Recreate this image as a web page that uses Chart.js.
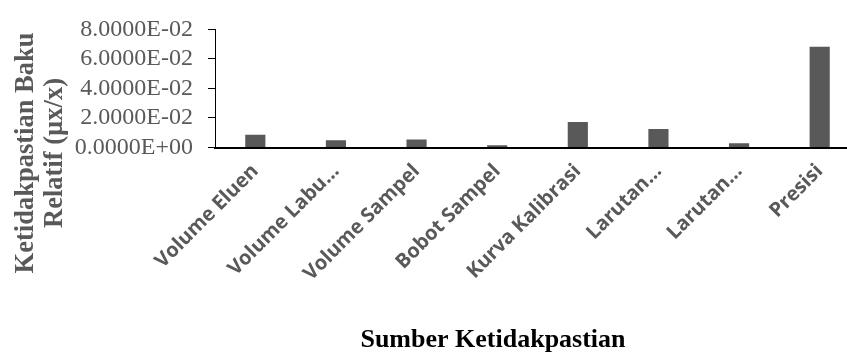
<!DOCTYPE html>
<html>
<head>
<meta charset="utf-8">
<script src="https://cdn.jsdelivr.net/npm/chart.js@4/dist/chart.umd.min.js"></script>
<style>
  html, body { margin: 0; padding: 0; background: #fff; }
  #wrap { width: 847px; height: 352px; overflow: hidden; position: relative; }
  #box { width: 860px; height: 352px; }
</style>
</head>
<body>
<div id="wrap"><div id="box"><canvas id="chart"></canvas></div></div>
<script>
// data
const categories = ['Volume Eluen', 'Volume Labu…', 'Volume Sampel', 'Bobot Sampel',
                    'Kurva Kalibrasi', 'Larutan…', 'Larutan…', 'Presisi'];
const values = [0.0086, 0.0049, 0.0055, 0.0016, 0.0172, 0.0125, 0.0029, 0.0683];
const yTicks = [0, 0.02, 0.04, 0.06, 0.08];
const yTitle = ['Ketidakpastian Baku', 'Relatif (µx/x)'];
const xTitle = 'Sumber Ketidakpastian';

// 8.0000E-02 style labels
function sci(v) {
    const parts = Number(v).toExponential(4).split('e');
    const n = parseInt(parts[1], 10);
    return parts[0] + 'E' + (n < 0 ? '-' : '+') + String(Math.abs(n)).padStart(2, '0');
}

// axis titles drawn by hand (Excel places them off-centre)
const axisTitles = {
    id: 'axisTitles',
    afterDraw(chart) {
        const ctx = chart.ctx;
        ctx.save();
        ctx.font = 'bold 26px "Liberation Serif"';
        ctx.textAlign = 'center';
        ctx.textBaseline = 'alphabetic';
        ctx.fillStyle = '#000';
        ctx.fillText(xTitle, 493, 347);

        ctx.fillStyle = '#595959';
        ctx.font = 'bold 26.5px "Liberation Serif"';
        ctx.translate(0, 153);
        ctx.rotate(-Math.PI / 2);
        ctx.fillText(yTitle[0], 0, 33);
        ctx.fillText(yTitle[1], 0, 62);
        ctx.restore();
    }
};

new Chart(document.getElementById('chart'), {
    type: 'bar',
    data: {
        labels: categories,
        datasets: [{
            data: values,
            backgroundColor: '#595959',
            borderWidth: 0,
            barPercentage: 0.25,
            categoryPercentage: 1
        }]
    },
    options: {
        responsive: true,
        maintainAspectRatio: false,
        animation: false,
        layout: { padding: { top: 24, left: 0, right: 0, bottom: 0 } },
        plugins: { legend: { display: false }, tooltip: { enabled: false } },
        scales: {
            x: {
                grid: { display: false },
                border: { display: true, color: '#000', width: 2 },
                ticks: {
                    autoSkip: false,
                    minRotation: 45,
                    maxRotation: 45,
                    padding: 4,
                    color: '#595959',
                    font: { family: '"Open Sans"', size: 20, weight: 'bold' }
                },
                afterFit(scale) { scale.height = 204.5; }
            },
            y: {
                min: 0,
                max: 0.08,
                afterBuildTicks(scale) { scale.ticks = yTicks.map(v => ({ value: v })); },
                grid: { display: true, drawOnChartArea: false, drawTicks: true, tickLength: 7, color: '#000' },
                border: { display: true, color: '#000', width: 1 },
                ticks: {
                    autoSkip: false,
                    padding: 15,
                    color: '#595959',
                    font: { family: '"Liberation Serif"', size: 24 },
                    callback: v => sci(v)
                },
                afterFit(scale) { scale.width = 215; }
            }
        }
    },
    plugins: [axisTitles]
});
</script>
</body>
</html>
